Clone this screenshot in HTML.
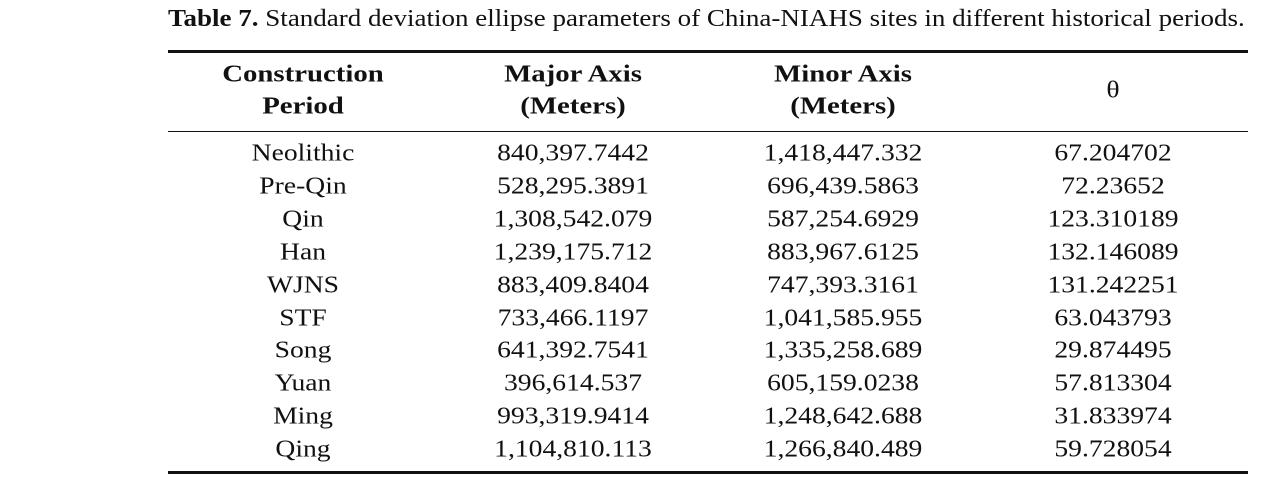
<!DOCTYPE html>
<html><head><meta charset="utf-8"><style>
body{margin:0;width:1280px;height:481px;background:#fff;position:relative;font-family:"Liberation Serif",serif;color:#111;overflow:hidden}
.t{position:absolute;white-space:nowrap;transform:translate(-50%,-50%) scaleX(1.15);font-size:24px}
.b{font-weight:bold;transform:translate(-50%,-50%) scaleX(1.2)}
.r{position:absolute;left:168px;width:1080px;background:#111}
</style></head><body>
<div style="position:absolute;left:168px;top:6px;font-size:24px;white-space:nowrap;transform:scaleX(1.125);transform-origin:0 0"><b>Table 7.</b> Standard deviation ellipse parameters of China-NIAHS sites in different historical periods.</div>
<div class="r" style="top:50px;height:3px"></div>
<div class="r" style="top:131px;height:1px"></div>
<div class="r" style="top:471px;height:3px"></div>
<div class="t b" style="left:303px;top:75px">Construction</div>
<div class="t b" style="left:303px;top:107px">Period</div>
<div class="t b" style="left:573px;top:75px">Major Axis</div>
<div class="t b" style="left:573px;top:107px">(Meters)</div>
<div class="t b" style="left:843px;top:75px">Minor Axis</div>
<div class="t b" style="left:843px;top:107px">(Meters)</div>
<div class="t" style="left:1113px;top:91px">θ</div>
<script>
var d=[["Neolithic","840,397.7442","1,418,447.332","67.204702"],["Pre-Qin","528,295.3891","696,439.5863","72.23652"],["Qin","1,308,542.079","587,254.6929","123.310189"],["Han","1,239,175.712","883,967.6125","132.146089"],["WJNS","883,409.8404","747,393.3161","131.242251"],["STF","733,466.1197","1,041,585.955","63.043793"],["Song","641,392.7541","1,335,258.689","29.874495"],["Yuan","396,614.537","605,159.0238","57.813304"],["Ming","993,319.9414","1,248,642.688","31.833974"],["Qing","1,104,810.113","1,266,840.489","59.728054"]];
var x=[303,573,843,1113],h="";
d.forEach(function(r,i){r.forEach(function(c,j){h+='<div class="t" style="left:'+x[j]+'px;top:'+(154+i*32.9)+'px">'+c+'</div>';});});
document.body.insertAdjacentHTML("beforeend",h);
</script>
</body></html>
